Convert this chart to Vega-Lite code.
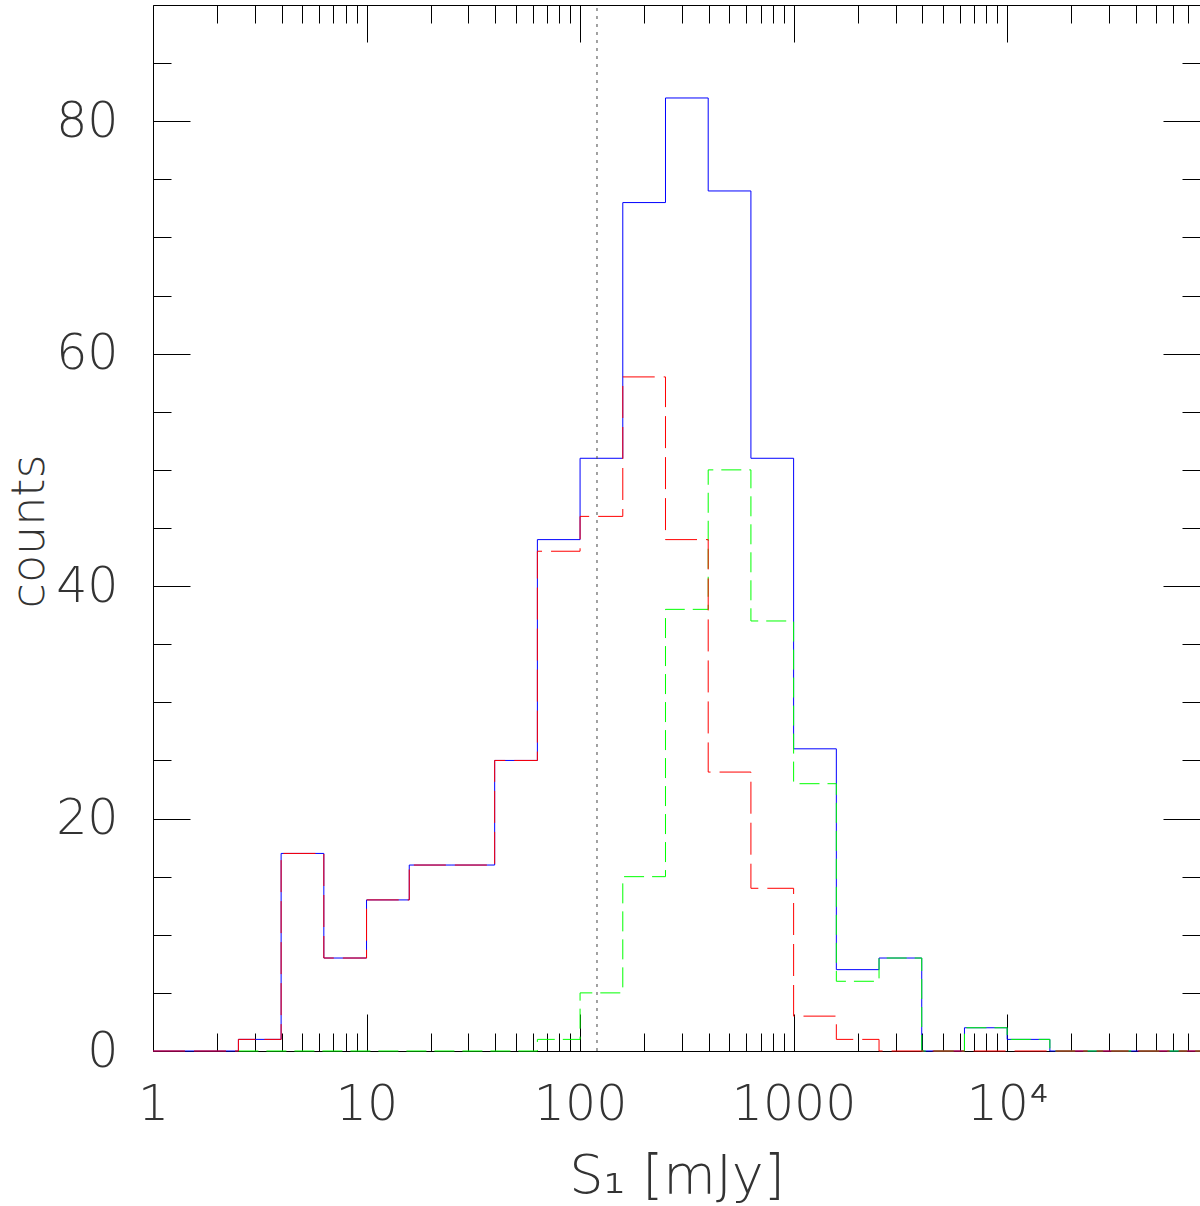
{
  "$schema": "https://vega.github.io/schema/vega-lite/v6.json",
  "width": 1047,
  "height": 1046,
  "autosize": {"type": "none"},
  "padding": {"left": 153, "top": 5, "right": 0, "bottom": 155},
  "background": "white",
  "config": {
    "view": {"stroke": "#000", "strokeWidth": 1},
    "axis": {
      "grid": false,
      "domain": false,
      "tickColor": "#000",
      "tickWidth": 1,
      "labelFont": "DejaVu Sans",
      "labelFontSize": 49,
      "labelFontWeight": 200,
      "labelColor": "#333",
      "labelFlush": false,
      "labelOverlap": false,
      "labelBound": false,
      "titleFont": "DejaVu Sans",
      "titleFontSize": 54,
      "titleFontWeight": 200,
      "titleColor": "#333",
      "zindex": 0
    }
  },
  "datasets": {
    "total": [
      {"S": 1, "n": 0}, {"S": 2.512, "n": 1}, {"S": 3.981, "n": 17}, {"S": 6.31, "n": 8},
      {"S": 10, "n": 13}, {"S": 15.85, "n": 16}, {"S": 25.12, "n": 16}, {"S": 39.81, "n": 25},
      {"S": 63.1, "n": 44}, {"S": 100, "n": 51}, {"S": 158.5, "n": 73}, {"S": 251.2, "n": 82},
      {"S": 398.1, "n": 74}, {"S": 631, "n": 51}, {"S": 1000, "n": 26}, {"S": 1585, "n": 7},
      {"S": 2512, "n": 8}, {"S": 3981, "n": 0}, {"S": 6310, "n": 2}, {"S": 10000, "n": 1},
      {"S": 15849, "n": 0}, {"S": 80000, "n": 0}
    ],
    "low": [
      {"S": 1, "n": 0}, {"S": 2.512, "n": 1}, {"S": 3.981, "n": 17}, {"S": 6.31, "n": 8},
      {"S": 10, "n": 13}, {"S": 15.85, "n": 16}, {"S": 25.12, "n": 16}, {"S": 39.81, "n": 25},
      {"S": 63.1, "n": 43}, {"S": 100, "n": 46}, {"S": 158.5, "n": 58}, {"S": 251.2, "n": 44},
      {"S": 398.1, "n": 24}, {"S": 631, "n": 14}, {"S": 1000, "n": 3}, {"S": 1585, "n": 1},
      {"S": 2512, "n": 0}, {"S": 80000, "n": 0}
    ],
    "high": [
      {"S": 2.512, "n": 0}, {"S": 63.1, "n": 1}, {"S": 100, "n": 5}, {"S": 158.5, "n": 15},
      {"S": 251.2, "n": 38}, {"S": 398.1, "n": 50}, {"S": 631, "n": 37}, {"S": 1000, "n": 23},
      {"S": 1585, "n": 6}, {"S": 2512, "n": 8}, {"S": 3981, "n": 0}, {"S": 6310, "n": 2},
      {"S": 10000, "n": 1}, {"S": 15849, "n": 0}, {"S": 80000, "n": 0}
    ],
    "cut": [{"S": 120}]
  },
  "resolve": {"axis": {"x": "independent", "y": "independent"}},
  "layer": [
    {
      "data": {"name": "total"},
      "mark": {"type": "line", "interpolate": "step-after", "color": "#0000ff", "strokeWidth": 1},
      "encoding": {
        "x": {
          "field": "S", "type": "quantitative",
          "scale": {"type": "log", "domain": [1, 80000], "nice": false},
          "axis": {
            "orient": "bottom", "values": [1, 10, 100, 1000, 10000],
            "tickSize": -37, "labelPadding": 66, "format": "d",
            "labelExpr": "datum.value == 10000 ? '10⁴' : datum.label",
            "title": "S₁ [mJy]", "titleY": 141, "titleBaseline": "alphabetic"
          }
        },
        "y": {
          "field": "n", "type": "quantitative",
          "scale": {"domain": [0, 90], "nice": false},
          "axis": {
            "orient": "left", "values": [0, 20, 40, 60, 80],
            "tickSize": -37, "labelPadding": 72,
            "title": "counts", "titleAngle": -90, "titleX": -110, "titleY": 526,
            "titleAlign": "center", "titleBaseline": "alphabetic", "titleFontSize": 46
          }
        }
      }
    },
    {
      "data": {"name": "high"},
      "mark": {"type": "line", "interpolate": "step-after", "color": "#00ff00", "strokeWidth": 1, "strokeDash": [20, 8]},
      "encoding": {
        "x": {
          "field": "S", "type": "quantitative",
          "axis": {
            "orient": "bottom",
            "values": [2, 3, 4, 5, 6, 7, 8, 9, 20, 30, 40, 50, 60, 70, 80, 90, 200, 300, 400, 500, 600, 700, 800, 900, 2000, 3000, 4000, 5000, 6000, 7000, 8000, 9000, 20000, 30000, 40000, 50000, 60000, 70000],
            "tickSize": -18, "labels": false, "title": null
          }
        },
        "y": {
          "field": "n", "type": "quantitative",
          "axis": {
            "orient": "left", "values": [5, 10, 15, 25, 30, 35, 45, 50, 55, 65, 70, 75, 85],
            "tickSize": -18, "labels": false, "title": null
          }
        }
      }
    },
    {
      "data": {"name": "low"},
      "mark": {"type": "line", "interpolate": "step-after", "color": "#ff0000", "strokeWidth": 1, "strokeDash": [32, 9]},
      "encoding": {
        "x": {
          "field": "S", "type": "quantitative",
          "axis": {
            "orient": "top", "values": [1, 10, 100, 1000, 10000],
            "tickSize": -37, "labels": false, "title": null
          }
        },
        "y": {
          "field": "n", "type": "quantitative",
          "axis": {
            "orient": "right", "values": [0, 20, 40, 60, 80],
            "tickSize": -37, "labels": false, "title": null
          }
        }
      }
    },
    {
      "data": {"name": "cut"},
      "mark": {"type": "rule", "color": "#444", "strokeWidth": 1, "strokeDash": [3, 5]},
      "encoding": {
        "x": {
          "field": "S", "type": "quantitative",
          "axis": {
            "orient": "top",
            "values": [2, 3, 4, 5, 6, 7, 8, 9, 20, 30, 40, 50, 60, 70, 80, 90, 200, 300, 400, 500, 600, 700, 800, 900, 2000, 3000, 4000, 5000, 6000, 7000, 8000, 9000, 20000, 30000, 40000, 50000, 60000, 70000],
            "tickSize": -18, "labels": false, "title": null
          }
        },
        "y": {
          "datum": 0, "type": "quantitative",
          "axis": {
            "orient": "right", "values": [5, 10, 15, 25, 30, 35, 45, 50, 55, 65, 70, 75, 85],
            "tickSize": -18, "labels": false, "title": null
          }
        },
        "y2": {"datum": 90}
      }
    }
  ]
}
